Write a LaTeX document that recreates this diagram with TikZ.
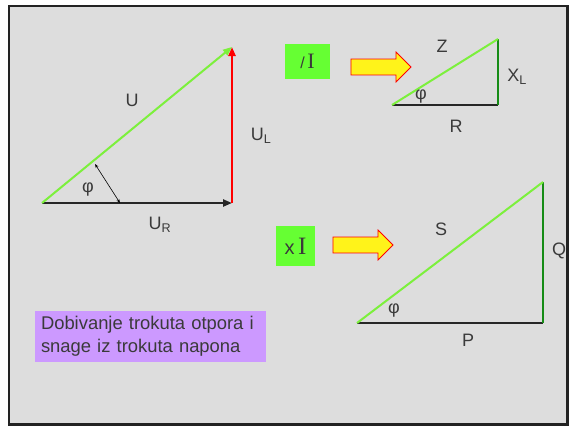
\documentclass[tikz,border=0pt]{standalone}
\usepackage{fontspec}
\setmainfont{Liberation Sans}
\newfontfamily\serifI{Liberation Serif}
\usetikzlibrary{arrows.meta, shapes.arrows}
\definecolor{panel}{HTML}{DDDDDD}
\definecolor{rim}{HTML}{222222}
\definecolor{opgreen}{HTML}{66FF33}
\definecolor{hyp}{HTML}{7CF03C}
\definecolor{leg}{HTML}{168C16}
\definecolor{lilac}{HTML}{CC99FF}
\definecolor{ink}{HTML}{3A3A3A}
\tikzset{
  lbl/.style={text=ink, font=\fontsize{18}{20}\selectfont, inner sep=0pt},
  vec/.style={-{Triangle[length=9pt, width=7pt]}, line width=2.2pt},
  side/.style={line width=2pt},
  opbox/.style={fill=opgreen, inner sep=0pt, text=ink},
  fatarrow/.style={single arrow, draw=red, fill=yellow!90!white, line width=0.8pt,
    inner sep=7.5pt, single arrow head extend=7pt, minimum height=60pt, minimum width=30pt}
}
\begin{document}
\begin{tikzpicture}[x=1pt, y=-1pt]
\useasboundingbox (0,0) rectangle (569,426);
\draw[rim, line width=2.5pt, fill=panel] (9,6) rectangle (567.5,424.5);
% trokut napona
\coordinate (uO) at (42,203);
\coordinate (uR) at (232,203);
\coordinate (uT) at (232,47);
\draw[vec, black!85] (uO) -- (uR);
\draw[vec, red, line width=2.6pt] (uR) -- (uT);
\draw[vec, hyp, line width=2pt] (uO) -- (uT);
\coordinate (phiH) at (95,164); \coordinate (phiB) at (120,203);
\draw[{Stealth[length=4pt, width=3pt]}-{Stealth[length=4pt, width=3pt]}, line width=0.6pt] (phiH) -- (phiB);
\node[lbl] (labU) at (132,100) {U};
\node[lbl] (labUL) at (261,136) {U\textsubscript{L}};
\node[lbl] (labUR) at (160,225) {U\textsubscript{R}};
\node[lbl] (labPhiU) at (88,190) {φ};
% trokut otpora
\coordinate (zO) at (392,105);
\coordinate (zR) at (498,105);
\coordinate (zT) at (498,39);
\draw[side, black!85] (zO) -- (zR);
\draw[side, leg] (zR) -- (zT);
\draw[side, hyp] (zO) -- (zT);
\node[lbl] (labZ) at (442,46) {Z};
\node[lbl] (labXL) at (517,77) {X\textsubscript{L}};
\node[lbl] (labR) at (456,126) {R};
\node[lbl] (labPhiZ) at (421,97) {φ};
\node[opbox, minimum width=45pt, minimum height=35pt] (divI) at (307.5,61.5) {\fontsize{16}{16}\selectfont /\,{\serifI\fontsize{22}{22}\selectfont I}};
\node[fatarrow] (arrZ) at (377,67) {};
% trokut snage
\coordinate (sO) at (357,323);
\coordinate (sR) at (543,323);
\coordinate (sT) at (543,182);
\draw[side, black!85] (sO) -- (sR);
\draw[side, leg] (sR) -- (sT);
\draw[side, hyp] (sO) -- (sT);
\node[lbl] (labS) at (441,229) {S};
\node[lbl] (labQ) at (559,251) {Q};
\node[lbl] (labP) at (468,340) {P};
\node[lbl] (labPhiS) at (394,310) {φ};
\node[opbox, minimum width=39pt, minimum height=40pt] (mulI) at (295.5,246) {\fontsize{20}{20}\selectfont x\,{\serifI\fontsize{25}{25}\selectfont I}};
\node[fatarrow] (arrS) at (359,245) {};
% opis
\node[fill=lilac, text=ink, font=\fontsize{18.4}{23}\selectfont, text width=219pt, align=left,
  inner xsep=6pt, inner ysep=3pt, minimum height=51pt] (note) at (150.5,336.5)
  {Dobivanje trokuta otpora i snage iz trokuta napona};
\end{tikzpicture}
\end{document}
